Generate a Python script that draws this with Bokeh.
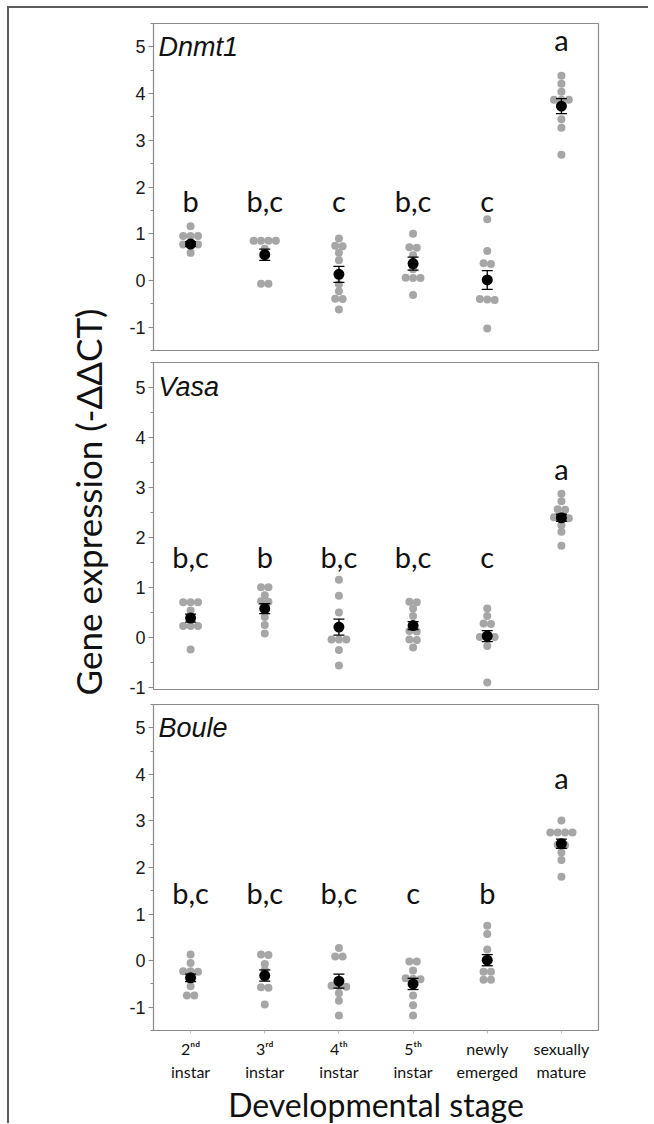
import math
from bokeh.plotting import figure
from bokeh.models import Range1d, SingleIntervalTicker, FixedTicker
from bokeh.layouts import column, row
from bokeh.embed import file_html
from bokeh.resources import INLINE
from bokeh.core.properties import value

# ---------------- data ----------------
stage_line1 = ["2\u207f\u1d48", "3\u02b3\u1d48", "4\u1d57\u02b0", "5\u1d57\u02b0", "newly", "sexually"]
stage_line2 = ["instar", "instar", "instar", "instar", "emerged", "mature"]
genes = ["Dnmt1", "Vasa", "Boule"]

dnmt1_points = [
    [1.16, 0.95, 0.95, 0.95, 0.77, 0.77, 0.77, 0.59],
    [0.85, 0.85, 0.85, 0.85, 0.68, -0.07, -0.07],
    [0.90, 0.74, 0.73, 0.59, 0.43, -0.08, -0.23, -0.39, -0.40, -0.62],
    [1.00, 0.71, 0.70, 0.54, 0.24, 0.06, 0.05, 0.05, -0.31],
    [1.31, 0.63, 0.37, 0.35, -0.40, -0.41, -0.42, -1.03],
    [4.38, 4.21, 4.04, 3.87, 3.87, 3.87, 3.45, 3.27, 2.69],
]
dnmt1_mean = [0.78, 0.55, 0.13, 0.36, 0.01, 3.73]
dnmt1_se = [0.05, 0.12, 0.17, 0.14, 0.20, 0.16]
dnmt1_letters = ["b", "b,c", "c", "b,c", "c", "a"]

vasa_points = [
    [0.70, 0.70, 0.70, 0.53, 0.22, 0.22, 0.22, -0.25],
    [1.00, 1.00, 0.84, 0.72, 0.71, 0.40, 0.24, 0.07],
    [1.15, 0.83, 0.49, -0.05, -0.05, -0.05, -0.26, -0.57],
    [0.71, 0.70, 0.57, 0.42, 0.12, 0.11, -0.05, -0.06, -0.21],
    [0.57, 0.42, 0.27, 0.26, 0.00, 0.00, 0.00, -0.18, -0.91],
    [2.87, 2.72, 2.56, 2.55, 2.40, 2.39, 2.38, 2.24, 2.11, 1.83],
]
vasa_mean = [0.38, 0.57, 0.20, 0.23, 0.02, 2.39]
vasa_se = [0.08, 0.10, 0.16, 0.08, 0.11, 0.07]
vasa_letters = ["b,c", "b", "b,c", "b,c", "c", "a"]

boule_points = [
    [0.13, -0.05, -0.23, -0.23, -0.24, -0.55, -0.75, -0.75],
    [0.13, 0.12, -0.07, -0.20, -0.57, -0.58, -0.94],
    [0.27, 0.09, 0.09, -0.54, -0.55, -0.56, -0.70, -0.86, -1.18],
    [-0.02, -0.02, -0.21, -0.38, -0.39, -0.40, -0.75, -0.96, -1.18],
    [0.75, 0.57, 0.24, -0.24, -0.24, -0.41, -0.41],
    [3.01, 2.75, 2.75, 2.75, 2.75, 2.49, 2.48, 2.32, 2.16, 1.80],
]
boule_mean = [-0.37, -0.32, -0.44, -0.50, 0.01, 2.51]
boule_se = [0.08, 0.12, 0.15, 0.12, 0.12, 0.10]
boule_letters = ["b,c", "b,c", "b,c", "c", "b", "a"]

y_ticks = [-1, 0, 1, 2, 3, 4, 5]

# ---------------- layout / style ----------------
X0, Y0 = 9, 8                 # page position of the layout content (after margin + border)
FRAME_W, FRAME_H = 445, 327
LEFT, RIGHT = 43, 50
TITLE_W = 153 - X0 - LEFT
PANEL_W = LEFT + FRAME_W + RIGHT
TOTAL_H = 1115
XT_H = 39
XPPU = FRAME_W / 6.0
DOT_STEP = 7.4
GREY = "#a6a6a6"
AXIS_GREY = "#8a8a8a"
TEXT_COL = "#111111"
LETTER_FONT = "Lato"
TICK_FONT = "Liberation Sans"

P1_TOP, P1_BOT = 23 - Y0, 6
P2_TOP, P2_BOT = 6, 8
P3_TOP = 7
P3_BOT = TOTAL_H - XT_H - (P1_TOP + FRAME_H + P1_BOT) - (P2_TOP + FRAME_H + P2_BOT) - P3_TOP - FRAME_H

# (gene, points, mean, se, letters, ylow, top border, bottom border, letter row y, "a" y)
panels_cfg = [
    (genes[0], dnmt1_points, dnmt1_mean, dnmt1_se, dnmt1_letters, -1.5, P1_TOP, P1_BOT, 1.72, 5.15),
    (genes[1], vasa_points, vasa_mean, vasa_se, vasa_letters, -1.05, P2_TOP, P2_BOT, 1.61, 3.37),
    (genes[2], boule_points, boule_mean, boule_se, boule_letters, -1.5, P3_TOP, P3_BOT, 1.47, 3.93),
]


def swarm(vals):
    rows = []
    for v in sorted(vals, reverse=True):
        if rows and rows[-1][0] - v < 0.06:
            rows[-1].append(v)
        else:
            rows.append([v])
    dx, ys = [], []
    for r in rows:
        n = len(r)
        for k, v in enumerate(r):
            dx.append((k - (n - 1) / 2.0) * DOT_STEP / XPPU)
            ys.append(v)
    return dx, ys


def make_panel(gene, pts, means, ses, letters, ylo, top, bottom, row_y, a_y, show_x):
    p = figure(width=PANEL_W, height=top + FRAME_H + bottom,
               x_range=Range1d(0, 6), y_range=Range1d(ylo, 5.5),
               output_backend="svg", toolbar_location=None, title=None,
               min_border_left=LEFT, min_border_right=RIGHT,
               min_border_top=top, min_border_bottom=bottom)
    p.grid.visible = False
    p.background_fill_color = "white"
    p.border_fill_color = "white"
    p.outline_line_color = AXIS_GREY
    p.outline_line_width = 1.2

    ya = p.yaxis[0]
    ya.ticker = SingleIntervalTicker(interval=1, num_minor_ticks=2)
    ya.major_label_overrides = {t: str(t) for t in y_ticks}
    ya.axis_line_color = AXIS_GREY
    ya.major_tick_line_color = AXIS_GREY
    ya.minor_tick_line_color = AXIS_GREY
    ya.major_tick_out = 5
    ya.major_tick_in = 0
    ya.minor_tick_out = 3
    ya.minor_tick_in = 0
    ya.major_label_text_font = TICK_FONT
    ya.major_label_text_font_size = "18px"
    ya.major_label_text_color = "#1a1a1a"
    ya.major_label_standoff = 3

    xa = p.xaxis[0]
    xc = [i + 0.5 for i in range(6)]
    if show_x:
        xa.ticker = FixedTicker(ticks=xc, minor_ticks=[])
        xa.major_label_overrides = {x: a + "\n" + b for x, a, b in zip(xc, stage_line1, stage_line2)}
        xa.axis_line_color = None
        xa.major_tick_out = 3
        xa.major_tick_in = 0
        xa.major_tick_line_color = "#bdbdbd"
        xa.major_label_text_font = LETTER_FONT
        xa.major_label_text_font_size = "16px"
        xa.major_label_text_color = TEXT_COL
        xa.major_label_text_line_height = 1.25
        xa.major_label_standoff = 5
    else:
        xa.visible = False

    gx, gy = [], []
    for i, vals in enumerate(pts):
        dx, ys = swarm(vals)
        gx += [xc[i] + d for d in dx]
        gy += ys
    p.scatter(gx, gy, size=8, fill_color=GREY, line_color=None)

    lo = [m - s for m, s in zip(means, ses)]
    hi = [m + s for m, s in zip(means, ses)]
    cap = 5.5 / XPPU
    p.segment(xc, lo, xc, hi, line_color="black", line_width=1.3)
    p.segment([x - cap for x in xc], hi, [x + cap for x in xc], hi, line_color="black", line_width=1.3)
    p.segment([x - cap for x in xc], lo, [x + cap for x in xc], lo, line_color="black", line_width=1.3)
    p.scatter(xc, means, size=11, fill_color="black", line_color=None)

    ly = [row_y] * 5 + [a_y]
    p.text(xc, ly, text=letters, text_align="center", text_baseline="middle",
           text_font=value(LETTER_FONT), text_font_size="29px", text_color=TEXT_COL)

    p.text(x=[0], y=[5.0], text=[gene], x_offset=5, text_baseline="middle",
           text_font=value(TICK_FONT), text_font_style="italic", text_font_size="27px",
           text_color=TEXT_COL)
    return p


figs = [make_panel(*cfg, show_x=(k == 2)) for k, cfg in enumerate(panels_cfg)]

# x-axis title strip under the panels, horizontally aligned with the panel frames
xt_bottom = Y0 + TOTAL_H
xt = figure(width=PANEL_W, height=XT_H, x_range=Range1d(0, 6),
            y_range=Range1d(xt_bottom, xt_bottom - XT_H), output_backend="svg",
            toolbar_location=None, title=None, x_axis_location=None, y_axis_location=None,
            min_border_left=LEFT, min_border_right=RIGHT, min_border_top=0, min_border_bottom=0)
xt.grid.visible = False
xt.outline_line_color = None
xt.text(x=[3.0], y=[xt_bottom - XT_H / 2.0], text=["Developmental stage"], text_align="center",
        text_baseline="middle", text_font=value(LETTER_FONT), text_font_size="32px",
        text_color=TEXT_COL)

# y-axis title in its own narrow figure spanning all panels (page-pixel coordinates)
t = figure(width=TITLE_W, height=TOTAL_H, x_range=Range1d(X0, X0 + TITLE_W),
           y_range=Range1d(Y0 + TOTAL_H, Y0), output_backend="svg", toolbar_location=None,
           title=None, x_axis_location=None, y_axis_location=None, min_border=0)
t.grid.visible = False
t.outline_line_color = None
t.text(x=[87.5], y=[501.5], text=["Gene expression (-\u0394\u0394CT)"],
       angle=math.pi / 2, text_align="center", text_baseline="middle",
       text_font=value(LETTER_FONT), text_font_size="35px", text_color=TEXT_COL)

layout = row([t, column(figs + [xt], spacing=0)], spacing=0,
             styles={"border-top": "2px solid #5c5c5c", "border-left": "2px solid #5c5c5c",
                     "margin-top": "6px", "margin-left": "7px"})

with open("out.html", "w", encoding="utf-8") as f:
    f.write(file_html(layout, INLINE))
